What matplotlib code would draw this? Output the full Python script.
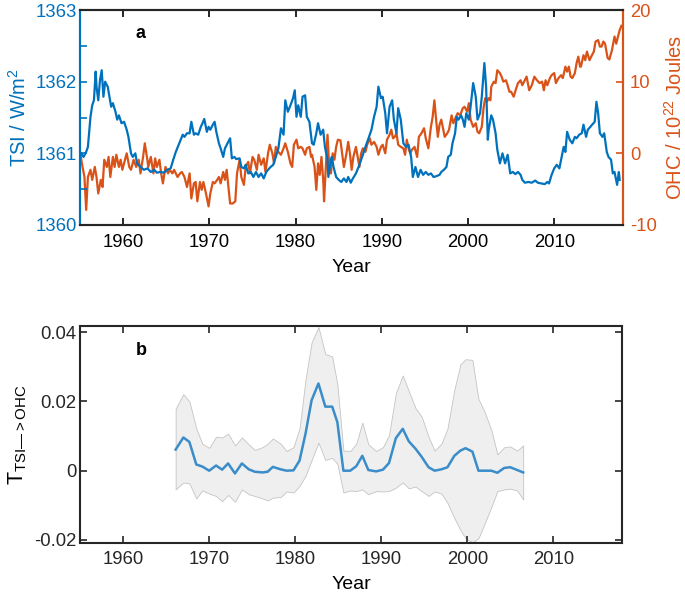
##
import matplotlib
matplotlib.use('Agg')
import matplotlib.pyplot as plt
import numpy as np

plt.rcParams['font.family'] = ['Liberation Sans', 'DejaVu Sans']
plt.rcParams['mathtext.fontset'] = 'custom'
plt.rcParams['mathtext.rm'] = 'Liberation Sans'
plt.rcParams['mathtext.it'] = 'Liberation Sans'
plt.rcParams['axes.unicode_minus'] = False

## data
tsi_year = [1955.1, 1955.4, 1955.7, 1955.9, 1956.2, 1956.4, 1956.6, 1956.8, 1956.9, 1957.1,
            1957.3, 1957.5, 1957.7, 1957.9, 1958.2, 1958.4, 1958.6, 1958.8, 1959.1, 1959.3,
            1959.5, 1959.8, 1960.1, 1960.4, 1960.6, 1960.9, 1961.1, 1961.4, 1961.6, 1962.0,
            1962.4, 1962.8, 1963.2, 1963.6, 1963.9, 1964.3, 1964.7, 1965.1, 1965.5, 1965.8,
            1966.1, 1966.5, 1966.9, 1967.1, 1967.4, 1967.7, 1967.9, 1968.2, 1968.4, 1968.7,
            1969.0, 1969.2, 1969.4, 1969.7, 1969.9, 1970.1, 1970.4, 1970.6, 1970.8, 1971.1,
            1971.3, 1971.6, 1971.8, 1972.1, 1972.4, 1972.6, 1972.9, 1973.1, 1973.5, 1973.7,
            1974.0, 1974.2, 1974.5, 1974.8, 1975.1, 1975.4, 1975.7, 1976.0, 1976.3, 1976.6,
            1976.8, 1977.1, 1977.4, 1977.7, 1978.0, 1978.3, 1978.6, 1978.8, 1979.1, 1979.4,
            1979.7, 1979.9, 1980.1, 1980.3, 1980.6, 1980.8, 1981.1, 1981.3, 1981.6, 1981.9,
            1982.1, 1982.4, 1982.6, 1982.9, 1983.2, 1983.4, 1983.7, 1983.8, 1984.1, 1984.2,
            1984.4, 1984.7, 1985.0, 1985.3, 1985.6, 1985.9, 1986.1, 1986.4, 1986.6, 1987.0,
            1987.4, 1987.8, 1988.1, 1988.4, 1988.8, 1989.1, 1989.4, 1989.6, 1989.9, 1990.1,
            1990.4, 1990.6, 1990.9, 1991.2, 1991.4, 1991.7, 1991.9, 1992.2, 1992.5, 1992.8,
            1993.1, 1993.4, 1993.6, 1993.9, 1994.2, 1994.5, 1994.8, 1995.1, 1995.4, 1995.7,
            1996.0, 1996.3, 1996.7, 1996.9, 1997.2, 1997.5, 1997.7, 1998.0, 1998.2, 1998.5,
            1998.7, 1998.9, 1999.2, 1999.4, 1999.6, 1999.8, 2000.1, 2000.3, 2000.6, 2000.9,
            2001.1, 2001.4, 2001.6, 2001.9, 2002.1, 2002.3, 2002.4, 2002.7, 2002.9, 2003.2,
            2003.4, 2003.7, 2004.0, 2004.3, 2004.6, 2004.9, 2005.2, 2005.5, 2005.8, 2006.1,
            2006.3, 2006.6, 2007.0, 2007.4, 2007.8, 2008.1, 2008.5, 2008.9, 2009.2, 2009.4,
            2009.7, 2010.0, 2010.3, 2010.6, 2010.8, 2011.1, 2011.3, 2011.5, 2011.8, 2012.1,
            2012.4, 2012.6, 2012.9, 2013.2, 2013.4, 2013.7, 2013.9, 2014.2, 2014.4, 2014.7,
            2014.9, 2015.1, 2015.3, 2015.6, 2015.8, 2016.1, 2016.3, 2016.6, 2016.8, 2017.0,
            2017.3, 2017.5, 2017.6]
tsi = [1361.00, 1360.95, 1361.02, 1361.09, 1361.51, 1361.67, 1361.74, 1362.14, 1361.93, 1361.74,
       1362.02, 1362.16, 1361.79, 1362.00, 1361.93, 1361.79, 1361.65, 1361.70, 1361.58, 1361.47,
       1361.53, 1361.42, 1361.44, 1361.33, 1361.23, 1361.00, 1360.95, 1361.00, 1360.86, 1360.81,
       1360.77, 1360.79, 1360.74, 1360.77, 1360.73, 1360.74, 1360.73, 1360.77, 1360.79, 1360.91,
       1361.02, 1361.14, 1361.26, 1361.23, 1361.28, 1361.28, 1361.44, 1361.26, 1361.28, 1361.26,
       1361.37, 1361.42, 1361.48, 1361.30, 1361.37, 1361.33, 1361.40, 1361.44, 1361.30, 1361.14,
       1361.07, 1360.95, 1361.07, 1361.14, 1361.21, 1360.93, 1360.95, 1360.92, 1360.93, 1360.81,
       1360.79, 1360.84, 1360.72, 1360.74, 1360.67, 1360.74, 1360.67, 1360.72, 1360.65, 1360.74,
       1360.77, 1360.81, 1360.84, 1360.95, 1361.07, 1361.35, 1361.26, 1361.74, 1361.58, 1361.67,
       1361.77, 1361.88, 1361.51, 1361.67, 1361.51, 1361.79, 1361.81, 1361.51, 1361.44, 1361.14,
       1361.12, 1361.28, 1361.42, 1361.26, 1361.33, 1361.09, 1360.91, 1360.67, 1360.91, 1360.95,
       1360.81, 1360.67, 1360.63, 1360.60, 1360.65, 1360.60, 1360.67, 1360.59, 1360.64, 1360.72,
       1360.84, 1360.98, 1361.09, 1361.19, 1361.33, 1361.51, 1361.65, 1361.93, 1361.77, 1361.79,
       1361.56, 1361.28, 1361.65, 1361.74, 1361.47, 1361.28, 1361.63, 1361.47, 1361.14, 1361.09,
       1361.12, 1360.95, 1360.67, 1360.81, 1360.67, 1360.77, 1360.70, 1360.74, 1360.70, 1360.72,
       1360.67, 1360.68, 1360.70, 1360.74, 1360.77, 1360.81, 1360.95, 1360.98, 1361.14, 1361.28,
       1361.51, 1361.47, 1361.53, 1361.47, 1361.37, 1361.56, 1361.47, 1361.65, 1361.98, 1361.79,
       1361.47, 1361.56, 1361.79, 1362.26, 1361.93, 1361.19, 1361.33, 1361.53, 1361.47, 1361.28,
       1361.05, 1360.86, 1361.00, 1360.86, 1360.98, 1360.72, 1360.74, 1360.71, 1360.74, 1360.70,
       1360.63, 1360.59, 1360.60, 1360.59, 1360.62, 1360.59, 1360.58, 1360.57, 1360.60, 1360.58,
       1360.70, 1360.79, 1360.84, 1360.79, 1360.91, 1361.09, 1361.02, 1361.30, 1361.19, 1361.14,
       1361.23, 1361.21, 1361.26, 1361.28, 1361.40, 1361.23, 1361.33, 1361.37, 1361.40, 1361.44,
       1361.72, 1361.56, 1361.28, 1361.23, 1361.28, 1361.02, 1360.95, 1360.91, 1360.72, 1360.74,
       1360.56, 1360.74, 1360.63]

ohc_year = [1955.05, 1955.2, 1955.5, 1955.7, 1955.9, 1956.2, 1956.4, 1956.7, 1956.9, 1957.1,
            1957.4, 1957.6, 1957.8, 1958.1, 1958.3, 1958.5, 1958.8, 1959.0, 1959.2, 1959.5,
            1959.7, 1959.9, 1960.2, 1960.4, 1960.7, 1960.9, 1961.2, 1961.5, 1961.8, 1962.0,
            1962.3, 1962.5, 1962.8, 1962.9, 1963.2, 1963.5, 1963.7, 1963.9, 1964.2, 1964.4,
            1964.6, 1964.9, 1965.2, 1965.4, 1965.7, 1965.9, 1966.3, 1966.6, 1966.8, 1967.1,
            1967.4, 1967.7, 1967.9, 1968.2, 1968.4, 1968.6, 1968.9, 1969.1, 1969.3, 1969.6,
            1969.9, 1970.1, 1970.4, 1970.6, 1970.9, 1971.1, 1971.3, 1971.6, 1971.8, 1972.0,
            1972.2, 1972.4, 1972.7, 1973.0, 1973.2, 1973.5, 1973.7, 1974.0, 1974.2, 1974.5,
            1974.7, 1975.0, 1975.2, 1975.5, 1975.7, 1976.0, 1976.3, 1976.5, 1976.8, 1977.0,
            1977.3, 1977.5, 1977.7, 1978.0, 1978.3, 1978.6, 1978.8, 1979.1, 1979.4, 1979.6,
            1979.8, 1980.1, 1980.3, 1980.6, 1980.8, 1981.1, 1981.3, 1981.6, 1981.8, 1981.9,
            1982.2, 1982.4, 1982.6, 1982.8, 1983.0, 1983.2, 1983.3, 1983.5, 1983.7, 1983.9,
            1984.1, 1984.3, 1984.5, 1984.7, 1984.9, 1985.2, 1985.4, 1985.6, 1985.9, 1986.1,
            1986.3, 1986.5, 1986.7, 1987.0, 1987.2, 1987.4, 1987.6, 1987.8, 1988.1, 1988.3,
            1988.6, 1988.8, 1989.1, 1989.4, 1989.6, 1989.9, 1990.1, 1990.4, 1990.6, 1990.9,
            1991.1, 1991.3, 1991.5, 1991.7, 1991.9, 1992.2, 1992.5, 1992.7, 1992.9, 1993.1,
            1993.3, 1993.5, 1993.8, 1994.1, 1994.3, 1994.6, 1994.9, 1995.1, 1995.4, 1995.7,
            1995.9, 1996.1, 1996.3, 1996.5, 1996.7, 1996.9, 1997.1, 1997.3, 1997.6, 1997.8,
            1998.1, 1998.3, 1998.6, 1998.8, 1999.1, 1999.3, 1999.4, 1999.6, 1999.9, 2000.1,
            2000.3, 2000.6, 2000.9, 2001.1, 2001.3, 2001.6, 2001.8, 2002.0, 2002.2, 2002.4,
            2002.6, 2002.7, 2003.0, 2003.2, 2003.4, 2003.7, 2003.9, 2004.1, 2004.4, 2004.6,
            2004.8, 2005.0, 2005.3, 2005.6, 2005.8, 2006.1, 2006.3, 2006.6, 2006.8, 2007.1,
            2007.4, 2007.7, 2008.0, 2008.3, 2008.6, 2008.8, 2009.0, 2009.2, 2009.5, 2009.7,
            2010.0, 2010.2, 2010.5, 2010.8, 2011.0, 2011.3, 2011.5, 2011.7, 2011.9, 2012.1,
            2012.4, 2012.6, 2012.8, 2013.0, 2013.1, 2013.4, 2013.6, 2013.8, 2014.1, 2014.3,
            2014.6, 2014.8, 2015.1, 2015.3, 2015.5, 2015.7, 2015.9, 2016.2, 2016.4, 2016.7,
            2017.0, 2017.2, 2017.4, 2017.6, 2017.8]
ohc = [-0.2, -1.4, -3.3, -7.9, -3.3, -2.3, -3.7, -1.9, -3.3, -5.6,
       -3.7, -4.7, -0.9, -1.9, -0.5, -3.3, -0.5, -1.9, -0.2, -1.9,
       -0.9, -2.3, -0.9, 0.0, -1.9, -2.3, -0.9, -1.9, -0.9, -2.8,
       -0.5, 1.4, -0.9, -1.9, -0.5, -2.8, -0.7, -1.9, -0.9, -2.8,
       -4.2, -1.9, -2.8, -2.3, -2.8, -2.3, -3.3, -2.8, -2.6, -3.3,
       -4.7, -2.8, -6.3, -4.2, -4.0, -6.7, -4.0, -5.1, -4.0, -5.6,
       -7.4, -5.6, -4.0, -4.2, -3.7, -3.3, -4.2, -2.6, -3.7, -2.3,
       -4.7, -7.0, -7.0, -6.7, -2.8, -0.9, -3.3, -4.4, -1.9, -1.2,
       -2.8, -0.5, -0.9, -2.3, -0.2, -1.6, -0.7, -2.6, 0.0, 1.2,
       0.0, -1.4, 0.9, 0.2, -0.2, 0.7, 1.4, 0.2, -1.4, -1.9,
       1.2, 1.9, 0.7, 0.9, 0.7, -0.2, 0.7, 0.9, -0.5, -0.2,
       -1.9, -5.1, -1.4, -3.0, -0.5, -3.7, -6.7, -1.9, 2.6, -1.9,
       -2.8, 0.0, -0.9, 0.9, 1.9, 1.8, 0.0, -1.9, 0.0, 1.6,
       0.0, -2.3, -0.5, 0.9, -0.5, -1.9, 0.0, 0.7, 0.2, 1.2,
       2.1, 1.2, 1.6, 0.9, -0.2, 0.9, 1.2, 0.0, 1.9, 2.6,
       3.3, 2.1, 2.3, 2.8, 1.2, 0.9, 0.7, -0.2, 1.9, 0.7,
       0.0, 0.5, 0.9, -0.5, 2.3, 2.8, 3.5, 2.1, 0.7, 3.7,
       5.1, 7.4, 4.7, 2.3, 4.0, 4.7, 3.5, 2.3, 2.8, 3.3,
       5.3, 4.2, 5.1, 5.6, 5.3, 6.0, 6.3, 6.5, 5.8, 7.0,
       4.7, 3.7, 4.2, 3.0, 2.8, 3.7, 6.3, 7.7, 7.2, 7.7,
       7.4, 9.3, 10.0, 9.8, 11.6, 11.2, 10.7, 10.0, 10.2, 9.5,
       8.6, 8.6, 7.9, 9.1, 9.8, 10.2, 9.5, 10.2, 10.7, 8.8,
       9.5, 10.7, 10.2, 9.8, 10.0, 8.8, 10.2, 9.5, 10.5, 10.9,
       11.2, 9.8, 10.5, 10.9, 10.5, 12.1, 11.4, 12.1, 10.7, 10.5,
       11.2, 12.6, 13.5, 12.1, 12.1, 13.7, 13.0, 14.2, 13.0, 13.5,
       14.2, 15.6, 15.8, 14.9, 14.9, 15.6, 15.3, 13.3, 13.1, 14.4,
       16.3, 15.3, 16.3, 17.2, 17.8]

te_year = [1966.1, 1967.0, 1967.7, 1968.5, 1969.2, 1970.0, 1970.8, 1971.5, 1972.2, 1973.0,
           1973.8, 1974.6, 1975.3, 1976.2, 1976.8, 1977.4, 1978.3, 1979.0, 1979.8, 1980.5,
           1981.2, 1981.9, 1982.7, 1983.5, 1984.3, 1984.9, 1985.6, 1986.4, 1987.1, 1987.8,
           1988.5, 1989.4, 1990.2, 1990.9, 1991.7, 1992.5, 1993.2, 1994.0, 1994.7, 1995.5,
           1996.2, 1997.0, 1997.7, 1998.5, 1999.2, 1999.8, 2000.6, 2001.3, 2002.0, 2002.8,
           2003.5, 2004.3, 2005.0, 2005.8, 2006.5]
te_mean = [0.0061, 0.0096, 0.0083, 0.0018, 0.0012, 0.0000, 0.0015, 0.0003, 0.0021, -0.0008,
           0.0021, 0.0004, -0.0003, -0.0005, -0.0003, 0.0011, 0.0004, 0.0000, 0.0001, 0.0029,
           0.0107, 0.0203, 0.0252, 0.0185, 0.0185, 0.0140, 0.0000, 0.0000, 0.0013, 0.0043,
           0.0002, -0.0002, 0.0003, 0.0022, 0.0094, 0.0121, 0.0085, 0.0063, 0.0040, 0.0010,
           0.0000, 0.0004, 0.0010, 0.0043, 0.0058, 0.0065, 0.0055, 0.0000, 0.0000, 0.0000,
           -0.0006, 0.0008, 0.0010, 0.0002, -0.0005]
te_hi = [0.0179, 0.0221, 0.0200, 0.0122, 0.0078, 0.0066, 0.0098, 0.0096, 0.0107, 0.0073,
         0.0096, 0.0076, 0.0060, 0.0068, 0.0078, 0.0093, 0.0078, 0.0057, 0.0068, 0.0122,
         0.0263, 0.0370, 0.0415, 0.0337, 0.0330, 0.0249, 0.0058, 0.0057, 0.0078, 0.0139,
         0.0076, 0.0057, 0.0068, 0.0102, 0.0224, 0.0275, 0.0230, 0.0180, 0.0156, 0.0098,
         0.0058, 0.0078, 0.0122, 0.0234, 0.0307, 0.0322, 0.0320, 0.0207, 0.0171, 0.0117,
         0.0047, 0.0068, 0.0070, 0.0058, 0.0073]
te_lo = [-0.0054, -0.0034, -0.0037, -0.0080, -0.0057, -0.0066, -0.0073, -0.0088, -0.0070, -0.0090,
         -0.0054, -0.0068, -0.0073, -0.0080, -0.0086, -0.0078, -0.0076, -0.0060, -0.0063, -0.0044,
         -0.0015, 0.0030, 0.0081, 0.0031, 0.0037, 0.0020, -0.0063, -0.0057, -0.0059, -0.0054,
         -0.0068, -0.0059, -0.0060, -0.0059, -0.0049, -0.0034, -0.0051, -0.0046, -0.0059, -0.0073,
         -0.0060, -0.0066, -0.0093, -0.0137, -0.0171, -0.0195, -0.0207, -0.0195, -0.0154, -0.0105,
         -0.0059, -0.0054, -0.0052, -0.0057, -0.0083]

year_ticks = [1960, 1970, 1980, 1990, 2000, 2010]

## figure
blue = '#0072BD'
orange = '#D95319'
fs_tick = 13.3
fs_lab = 14.5

fig = plt.figure(figsize=(6.85, 5.93), dpi=100)

# panel a
ax1 = fig.add_axes([0.117, 0.6206, 0.7927, 0.3625])
ax1.plot(tsi_year, tsi, color=blue, lw=1.6)
ax1.set_xlim(1955, 2018)
ax1.set_ylim(1360, 1363)
ax1.set_yticks([1360, 1361, 1362, 1363])
ax1.set_yticks(np.arange(1360.5, 1363, 1.0), minor=True)
ax1.set_xticks(year_ticks)
ax1.set_ylabel('TSI / W/m$^2$', color=blue, fontsize=fs_lab, labelpad=4)
ax1.set_xlabel('Year', fontsize=14, labelpad=6)
ax1.tick_params(axis='y', which='both', colors=blue, direction='in', length=5, width=1.2,
                labelsize=fs_tick, right=False, pad=2.5)
ax1.tick_params(axis='x', direction='in', length=5, width=1.2, labelsize=fs_tick, top=True,
                pad=6.5)
ax1.text(0.112, 0.893, 'a', transform=ax1.transAxes, fontsize=13, fontweight='bold',
         ha='center', va='center')

ax2 = ax1.twinx()
ax2.plot(ohc_year, ohc, color=orange, lw=1.6)
ax2.set_ylim(-10, 20)
ax2.set_yticks([-10, 0, 10, 20])
ax2.set_ylabel('OHC / 10$^{22}$ Joules', color=orange, fontsize=fs_lab, labelpad=5)
ax2.tick_params(axis='y', colors=orange, direction='in', length=5, width=1.2,
                labelsize=fs_tick, pad=5)

for ax in (ax1, ax2):
    for s in ax.spines.values():
        s.set_linewidth(1.5)
        s.set_color('#262626')
ax2.spines['left'].set_color(blue)
ax2.spines['right'].set_color(orange)
ax1.spines['left'].set_color(blue)
ax1.spines['right'].set_color(orange)
ax1.set_zorder(ax2.get_zorder() + 1)
ax1.patch.set_visible(False)

# panel b
ax3 = fig.add_axes([0.117, 0.0848, 0.7912, 0.3655])
ax3.fill_between(te_year, te_lo, te_hi, facecolor='#efefef', edgecolor='#c4c4c4', lw=0.6)
ax3.plot(te_year, te_mean, color='#3a8dc9', lw=1.8)
ax3.set_xlim(1955, 2018)
ax3.set_ylim(-0.0208, 0.0418)
ax3.set_yticks([-0.02, 0, 0.02, 0.04])
ax3.set_yticklabels(['-0.02', '0', '0.02', '0.04'])
ax3.set_xticks(year_ticks)
ax3.tick_params(direction='in', length=5, width=1.2, labelsize=fs_tick,
                top=True, right=True, colors='#262626')
ax3.tick_params(axis='y', pad=2.5)
ax3.tick_params(axis='x', pad=6)
ax3.set_xlabel('Year', fontsize=14, labelpad=5.5)
ax3.set_ylabel('T$_{\\mathrm{TSI—>OHC}}$', fontsize=15.5, labelpad=4)
for s in ax3.spines.values():
    s.set_linewidth(1.5)
    s.set_color('#262626')
ax3.text(0.112, 0.889, 'b', transform=ax3.transAxes, fontsize=13, fontweight='bold',
         ha='center', va='center')

fig.savefig('out.png', dpi=100)
##
